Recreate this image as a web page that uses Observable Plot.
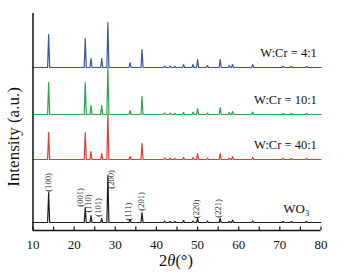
<!DOCTYPE html>
<html>
<head>
<meta charset="utf-8">
<script src="https://cdn.jsdelivr.net/npm/d3@7"></script>
<script src="https://cdn.jsdelivr.net/npm/@observablehq/plot@0.6"></script>
<style>
  body { margin: 0; background: #fff; }
  svg { font-family: "Liberation Serif", serif; }
</style>
</head>
<body>
<div id="chart"></div>
<script>
// Peak positions (2θ, degrees)
const peakPositions = [13.8, 22.7, 24.1, 26.7, 28.2, 33.6, 36.5, 42.0, 43.3, 44.5, 46.6, 48.9, 50.0, 52.4, 55.5, 57.7, 58.5, 63.4, 70.8, 72.8, 76.5];
// Peak heights per sample (arbitrary units)
const heightsWO3   = [30, 15, 7, 4, 47, 3, 10, 1.5, 1, 1, 2, 1.5, 4, 1.5, 4, 1, 2.5, 1.5, 1, 1, 1];
const heights40    = [27, 27, 8, 6, 45, 3, 16, 1.5, 1, 1, 2, 2, 6, 1.5, 6, 1.5, 3, 2, 1, 1, 1];
const heights10    = [32, 32, 9, 9, 47, 4, 18, 1.5, 1.5, 1, 2, 2.5, 6, 1.5, 7, 2, 3, 2.5, 1, 1, 1];
const heights4     = [33, 29, 9, 9, 45, 5, 18, 1.5, 1.5, 1, 3, 3, 8, 2, 8, 2, 3, 3, 1.5, 1, 1];
// Vertical offsets of stacked patterns
const seriesNames   = ["WO3", "W:Cr = 40:1", "W:Cr = 10:1", "W:Cr = 4:1"];
const seriesOffsets = [8, 71, 116, 163];
const seriesColors  = ["#1e1e1e", "#e8392f", "#2aa64e", "#3a55a8"];
const seriesHeights = [heightsWO3, heights40, heights10, heights4];
// hkl labels for WO3
const hklText = ["(100)", "(001)", "(110)", "(101)", "(200)", "(111)", "(201)", "(220)", "(221)"];
const hklX    = [13.7, 21.6, 23.5, 25.9, 29.1, 33.2, 36.4, 49.8, 55.0];
const hklY    = [48, 33, 27, 23, 51, 19, 29, 21.5, 22];
const xTicks = [10, 20, 30, 40, 50, 60, 70, 80];
const xMinorTicks = d3.range(10, 81, 5);

const halfWidth = 0.25;
const lineData = [];
seriesNames.forEach((name, i) => {
  const off = seriesOffsets[i];
  lineData.push({series: name, x: 10, y: off});
  peakPositions.forEach((p, j) => {
    lineData.push({series: name, x: p - halfWidth, y: off});
    lineData.push({series: name, x: p, y: off + seriesHeights[i][j]});
    lineData.push({series: name, x: p + halfWidth, y: off});
  });
  lineData.push({series: name, x: 80, y: off});
});
const labelData = seriesNames.slice(1).map((name, k) => ({name, y: seriesOffsets[k + 1] + 15}));
const hklData = hklText.map((t, i) => ({t, x: hklX[i], y: hklY[i]}));

const chart = Plot.plot({
  width: 344,
  height: 275,
  marginLeft: 32.5,
  marginRight: 23.5,
  marginTop: 13,
  marginBottom: 45,
  style: {fontFamily: "Liberation Serif, serif", color: "#111", background: "#fff"},
  x: {domain: [10, 80]},
  y: {domain: [0, 217], axis: null},
  color: {domain: seriesNames, range: seriesColors},
  marks: [
    Plot.line(lineData, {x: "x", y: "y", z: "series", stroke: "series", strokeWidth: 1.2}),
    Plot.ruleY([0], {stroke: "#111", strokeWidth: 1.5}),
    Plot.ruleX([10], {stroke: "#111", strokeWidth: 1.5}),
    Plot.axisX({ticks: xMinorTicks, tickSize: 3.5, dy: -3.5, tickFormat: () => "", label: null, stroke: "#111", strokeWidth: 1.2}),
    Plot.axisX({ticks: xTicks, tickSize: 0, tickPadding: 9, fontSize: 13, label: null, fill: "#111"}),
    Plot.text(labelData, {x: 79, y: "y", text: "name", textAnchor: "end", fontSize: 12.5, fill: "#111"}),
    Plot.text(["WO₃"], {x: 74, y: 22, text: d => d, fontSize: 13, fill: "#111"}),
    Plot.text(hklData, {x: "x", y: "y", text: "t", rotate: -90, fontSize: 8.5, fill: "#222"})
  ]
});
document.getElementById("chart").appendChild(chart);

const svg = d3.select(chart);
const xl = svg.append("text")
  .attr("x", 176).attr("y", 266)
  .attr("text-anchor", "middle")
  .attr("font-size", 16.5).attr("fill", "#111")
  .attr("font-family", "Liberation Serif, serif");
xl.append("tspan").text("2");
xl.append("tspan").attr("font-style", "italic").text("θ");
xl.append("tspan").text("(°)");
svg.append("text")
  .attr("transform", "translate(19,137) rotate(-90)")
  .attr("text-anchor", "middle")
  .attr("font-size", 17).attr("fill", "#111")
  .attr("font-family", "Liberation Serif, serif")
  .text("Intensity (a.u.)");
</script>
</body>
</html>
